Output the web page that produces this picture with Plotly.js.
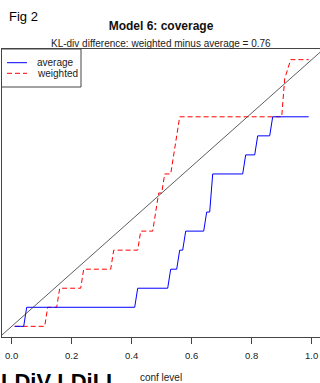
<!DOCTYPE html>
<html>
<head>
<meta charset="utf-8">
<script src="https://cdn.plot.ly/plotly-3.0.1.min.js"></script>
<style>
  html, body { margin: 0; padding: 0; background: #ffffff; }
  #chart { width: 320px; height: 383px; }
</style>
</head>
<body>
<div id="chart"></div>
<script>
// ---- data ----
const seriesNames = ["average", "weighted"];

// "average" coverage vs confidence level (vertices of the curve)
const avgConf = [0.01, 0.04, 0.05, 0.41, 0.42, 0.52, 0.53, 0.55, 0.56, 0.57, 0.58, 0.64, 0.65, 0.66, 0.67, 0.77, 0.78, 0.81, 0.82, 0.86, 0.87, 0.99];
const avgCov  = [0, 0, 0.0714, 0.0714, 0.1429, 0.1429, 0.2143, 0.2143, 0.2857, 0.2857, 0.3571, 0.3571, 0.4286, 0.4286, 0.5714, 0.5714, 0.6429, 0.6429, 0.7143, 0.7143, 0.7857, 0.7857];

// "weighted" coverage vs confidence level
const wtdConf = [0.01, 0.11, 0.12, 0.15, 0.16, 0.23, 0.24, 0.33, 0.34, 0.42, 0.43, 0.47, 0.49, 0.50, 0.51, 0.53, 0.56, 0.90, 0.91, 0.93, 0.99];
const wtdCov  = [0, 0, 0.0714, 0.0714, 0.1429, 0.1429, 0.2143, 0.2143, 0.2857, 0.2857, 0.3571, 0.3571, 0.5, 0.5, 0.5714, 0.5714, 0.7857, 0.7857, 0.9286, 1, 1];

// reference diagonal (perfect calibration, y = x)
const diagX = [-0.1, 1.1];
const diagY = [-0.1, 1.1];

// axis ticks
const xTickVals = [0, 0.2, 0.4, 0.6, 0.8, 1.0];
const xTickText = ["0.0", "0.2", "0.4", "0.6", "0.8", "1.0"];

// texts
const figLabel = "Fig 2";
const mainTitle = "Model 6: coverage";
const subTitle = "KL-div difference: weighted minus average = 0.76";
const xTitle = "conf level";
const footText = "LDiV LDiLL";

// ---- layout helpers (pixel -> paper) ----
const L = 2, T = 49, W = 318, H = 288;
const px = v => (v - L) / W;
const py = v => (T + H - v) / H;

const FONT = "Liberation Sans, Arial, sans-serif";
const AXC = "#444444";

const traces = [
  { x: wtdConf, y: wtdCov, name: seriesNames[1], type: "scatter", mode: "lines",
    line: { color: "#ff0000", width: 1, dash: "5px,3px" }, showlegend: false, hoverinfo: "skip" },
  { x: avgConf, y: avgCov, name: seriesNames[0], type: "scatter", mode: "lines",
    line: { color: "#0000ff", width: 1 }, showlegend: false, hoverinfo: "skip" },
  { x: diagX, y: diagY, name: "y = x", type: "scatter", mode: "lines",
    line: { color: "#333333", width: 0.8 }, showlegend: false, hoverinfo: "skip" }
];

const layout = {
  width: 320, height: 383,
  margin: { l: L, r: 0, t: T, b: 383 - T - H, pad: 0 },
  paper_bgcolor: "#ffffff", plot_bgcolor: "#ffffff",
  font: { family: FONT, color: "#222222", size: 10 },
  showlegend: false,
  title: {
    text: "<b>" + mainTitle + "</b>",
    font: { family: FONT, size: 12, color: "#111111" },
    x: 0.5, xanchor: "center", xref: "paper",
    y: 1 - 26 / 383, yanchor: "middle", yref: "container"
  },
  xaxis: {
    range: [(L - 11.7) / 300, (320 - 11.7) / 300],
    showline: true, linecolor: AXC, linewidth: 1, mirror: true,
    ticks: "outside", ticklen: 6, tickcolor: AXC, tickwidth: 1,
    tickvals: xTickVals, ticktext: xTickText,
    tickfont: { family: FONT, size: 9.5, color: "#222222" },
    ticklabelstandoff: 4,
    showgrid: false, zeroline: false, automargin: false,
    title: { text: xTitle, font: { family: FONT, size: 10, color: "#222222" }, standoff: 15 }
  },
  yaxis: {
    range: [-0.04, 1.04],
    showline: true, linecolor: AXC, linewidth: 1, mirror: false,
    ticks: "", showticklabels: false,
    showgrid: false, zeroline: false, automargin: false
  },
  shapes: [
    // legend box
    { type: "rect", xref: "paper", yref: "paper", x0: px(1.5), x1: px(81), y0: py(87), y1: 1,
      line: { color: AXC, width: 1 }, fillcolor: "#ffffff", layer: "above" },
    { type: "line", xref: "paper", yref: "paper", x0: px(7), x1: px(27), y0: py(62.7), y1: py(62.7),
      line: { color: "#0000ff", width: 1 }, layer: "above" },
    { type: "line", xref: "paper", yref: "paper", x0: px(7), x1: px(27), y0: py(73.3), y1: py(73.3),
      line: { color: "#ff0000", width: 1, dash: "5px,3px" }, layer: "above" }
  ],
  annotations: [
    { text: seriesNames[0], xref: "paper", yref: "paper", x: px(35), y: py(62.7),
      xanchor: "left", yanchor: "middle", showarrow: false,
      font: { family: FONT, size: 10, color: "#222222" } },
    { text: seriesNames[1], xref: "paper", yref: "paper", x: px(35), y: py(73.3),
      xanchor: "left", yanchor: "middle", showarrow: false,
      font: { family: FONT, size: 10, color: "#222222" } },
    { text: subTitle, xref: "paper", yref: "paper", x: 0.5, y: py(43.5),
      xanchor: "center", yanchor: "middle", showarrow: false,
      font: { family: FONT, size: 10, color: "#222222" } },
    { text: figLabel, xref: "paper", yref: "paper", x: px(7), y: py(16),
      xanchor: "left", yanchor: "middle", showarrow: false,
      font: { family: FONT, size: 13, color: "#000000" } },
    { text: "<b>" + footText + "</b>", xref: "paper", yref: "paper", x: px(-1), y: py(367),
      xanchor: "left", yanchor: "top", showarrow: false,
      font: { family: FONT, size: 22, color: "#000000" } }
  ]
};

Plotly.newPlot("chart", traces, layout, { staticPlot: true, displayModeBar: false });
</script>
</body>
</html>
